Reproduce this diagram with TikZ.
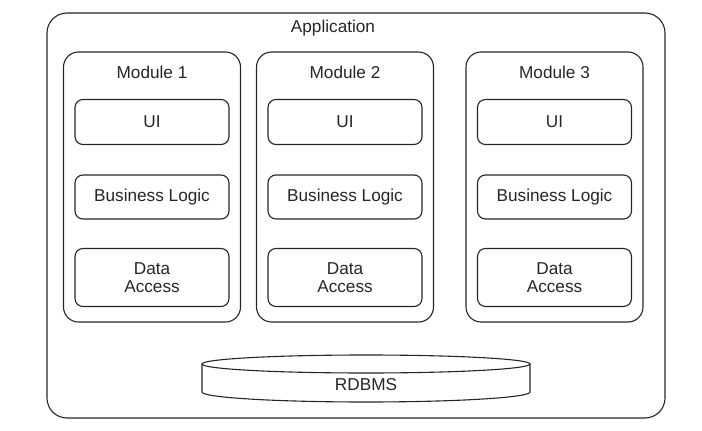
\documentclass[tikz,border=0pt]{standalone}
\usepackage{fontspec}
\setmainfont{Liberation Sans}
\usetikzlibrary{calc}

\begin{document}
\begin{tikzpicture}[x=1pt,y=-1pt,line width=1.1pt,draw=black!85,
		every node/.style={font=\fontsize{17.2}{18.5}\selectfont,text=black!85},
		module/.style={draw,rounded corners=15pt,minimum width=177pt,minimum height=270pt},
		part/.style={draw,rounded corners=8pt,minimum width=154pt,align=center}]
		
		\useasboundingbox (0,0) rectangle (702,431);
		
		\node (app) at (356,215.5) [draw,rounded corners=20pt,minimum width=618pt,minimum height=405pt] {};
		\node (apptitle) at (333,28) {Application};
		
		\foreach \x/\cx in {1/152, 2/345, 3/554.5} {
			\node (m\x) at (\cx,187) [module] {};
			\node (t\x) at (\cx,72) {Module \x};
			\node (ui\x) [below of=t\x, node distance=50pt, part, minimum height=45pt] {UI};
			\node (bl\x) [below of=ui\x, node distance=75pt, part, minimum height=44pt] {Business Logic};
			\node (da\x) [below of=bl\x, node distance=80.5pt, part, minimum height=58pt] {Data\\Access};
		}
		
		\node (db) at (366,385) {RDBMS};
		\coordinate (dbtop) at (366,364);
		\draw (dbtop) ellipse [x radius=164, y radius=9];
		\draw ($(dbtop)+(-164,0)$) -- ($(dbtop)+(-164,28)$) arc [start angle=180, end angle=0, x radius=164, y radius=10] -- ($(dbtop)+(164,0)$);
		
	\end{tikzpicture}
\end{document}
